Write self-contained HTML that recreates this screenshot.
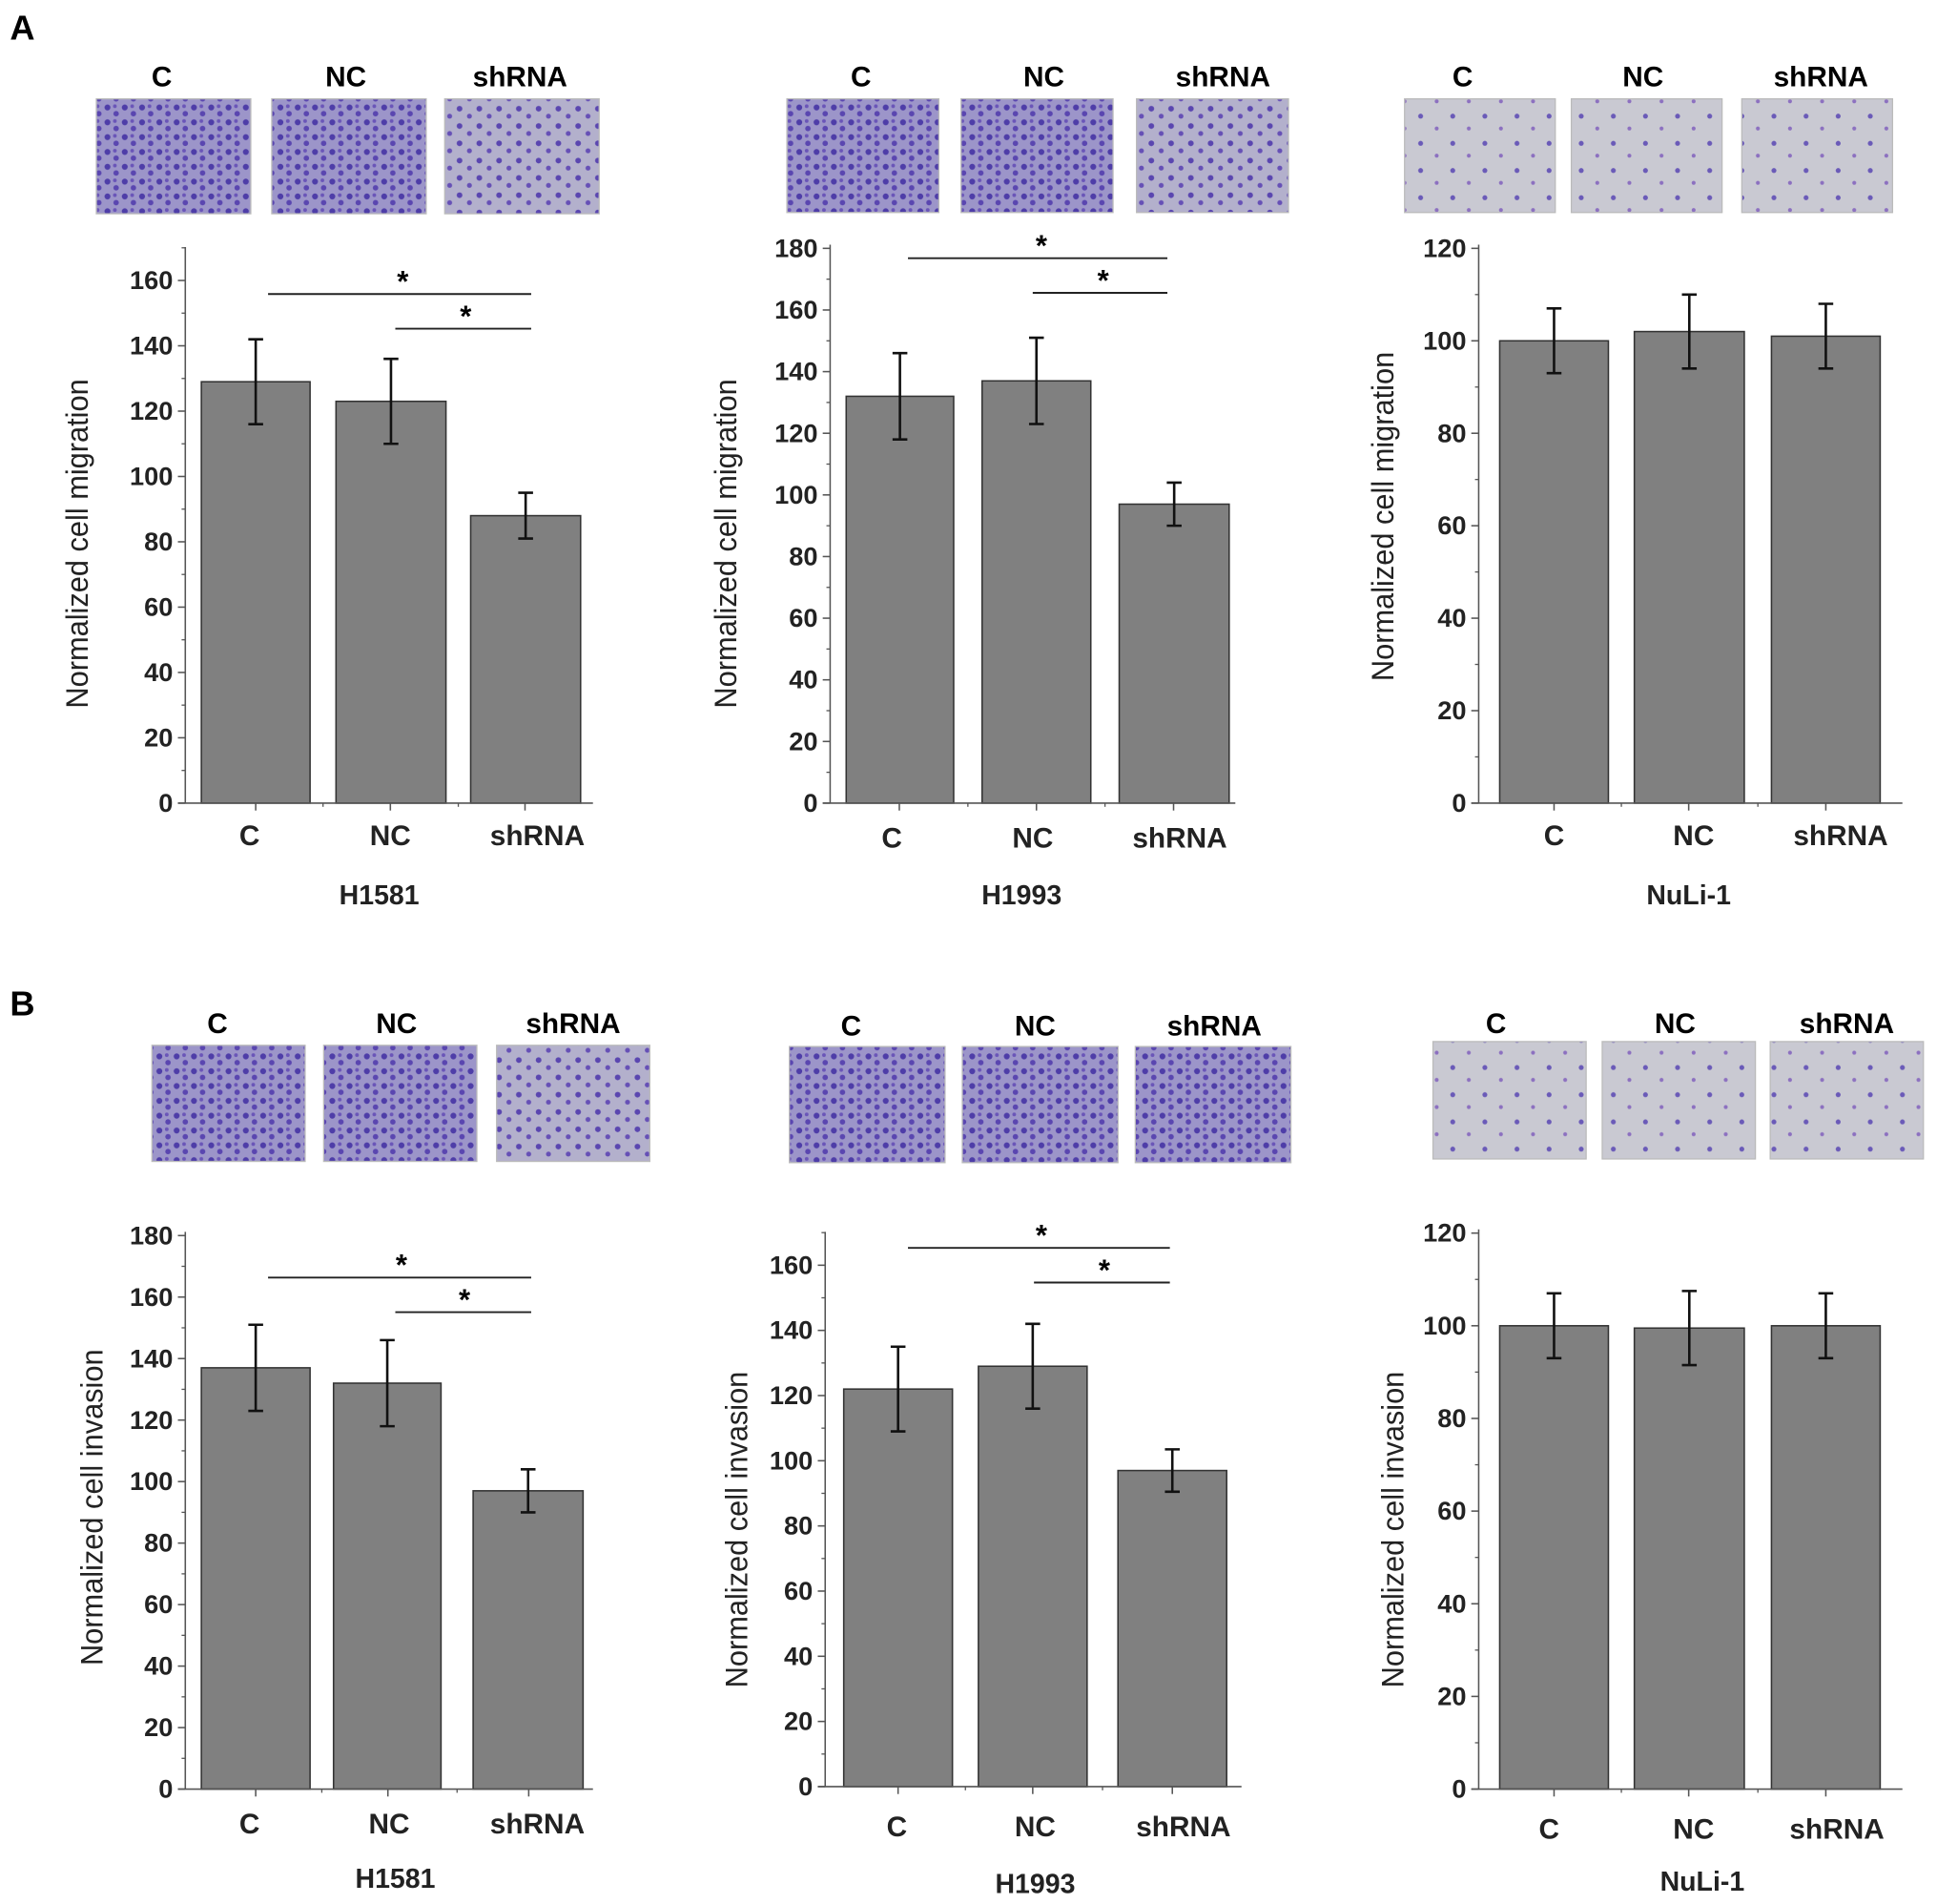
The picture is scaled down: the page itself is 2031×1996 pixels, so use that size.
<!DOCTYPE html>
<html><head><meta charset="utf-8"><style>
html,body{margin:0;padding:0;background:#fff}
svg{display:block}
text{font-family:"Liberation Sans",Arial,sans-serif}
</style></head><body>
<svg id="fig" width="2031" height="1996" viewBox="0 0 1568 1541" preserveAspectRatio="none" xmlns="http://www.w3.org/2000/svg">
<defs>
<pattern id="dense" width="14" height="12" patternUnits="userSpaceOnUse"><rect width="14" height="12" fill="#9c95c9"/><circle cx="3" cy="3" r="2.4" fill="#4e3da8"/><circle cx="10" cy="8" r="2.2" fill="#5a46b0"/><circle cx="9" cy="2" r="1.5" fill="#6a55b8"/></pattern>
<pattern id="medium" width="16" height="14" patternUnits="userSpaceOnUse"><rect width="16" height="14" fill="#b3b0cc"/><circle cx="4" cy="4" r="2.3" fill="#5a46b0"/><circle cx="12" cy="10" r="2" fill="#6650b6"/></pattern>
<pattern id="sparse" width="26" height="22" patternUnits="userSpaceOnUse"><rect width="26" height="22" fill="#c9c9d2"/><circle cx="6" cy="6" r="2" fill="#6a5ab8"/><circle cx="19" cy="16" r="1.6" fill="#8c70c0"/></pattern>
</defs>
<text x="8" y="32" font-size="28" font-weight="bold">A</text>
<text x="8" y="822" font-size="28" font-weight="bold">B</text>
<g id="root"></g>
</svg>
<script>
const categories=["C","NC","shRNA"];
const a1Values=[129,123,88]; const a1Errors=[13,13,7]; const a1Ticks=[0,20,40,60,80,100,120,140,160];
const a2Values=[132,137,97]; const a2Errors=[14,14,7]; const a2Ticks=[0,20,40,60,80,100,120,140,160,180];
const a3Values=[100,102,101]; const a3Errors=[7,8,7]; const a3Ticks=[0,20,40,60,80,100,120];
const b1Values=[137,132,97]; const b1Errors=[14,14,7]; const b1Ticks=[0,20,40,60,80,100,120,140,160,180];
const b2Values=[122,129,97]; const b2Errors=[13,13,6.5]; const b2Ticks=[0,20,40,60,80,100,120,140,160];
const b3Values=[100,99.5,100]; const b3Errors=[7,8,7]; const b3Ticks=[0,20,40,60,80,100,120];

const NS="http://www.w3.org/2000/svg";
const root=document.getElementById('root');
function mk(tag,attrs,parent,txt){const e=document.createElementNS(NS,tag);for(const k in attrs)e.setAttribute(k,attrs[k]);if(txt!==undefined)e.textContent=txt;(parent||root).appendChild(e);return e;}

const panels=[
 {id:'a1',values:a1Values,errors:a1Errors,ticks:a1Ticks,ax:150,y0:650,yTopVal:160,yTopPx:227,axTop:200,axEnd:480,
  bars:[[163,251],[272,361],[381,470]],cx:[207,316,425],xl:[[202,676],[316,676],[435,676]],title:['H1581',307,724],
  yl:['Normalized cell migration',63,440],imgs:[78,220,360],imgW:125,imgY:80,imgH:93,imgFill:['dense','dense','medium'],
  il:[[131,62],[280,62],[421,62]],sig:[[217,430,238,326],[320,430,266,377]]},
 {id:'a2',values:a2Values,errors:a2Errors,ticks:a2Ticks,ax:672,y0:650,yTopVal:180,yTopPx:201,axTop:198,axEnd:1000,
  bars:[[685,772],[795,883],[906,995]],cx:[728,839,950],xl:[[722,678],[836,678],[955,678]],title:['H1993',827,724],
  yl:['Normalized cell migration',588,440],imgs:[637,778,920],imgW:123,imgY:80,imgH:92,imgFill:['dense','dense','medium'],
  il:[[697,62],[845,62],[990,62]],sig:[[735,945,209,843],[836,945,237,893]]},
 {id:'a3',values:a3Values,errors:a3Errors,ticks:a3Ticks,ax:1197,y0:650,yTopVal:120,yTopPx:201,axTop:198,axEnd:1540,
  bars:[[1214,1302],[1323,1412],[1434,1522]],cx:[1258,1367,1478],xl:[[1258,676],[1371,676],[1490,676]],title:['NuLi-1',1367,724],
  yl:['Normalized cell migration',1120,418],imgs:[1137,1272,1410],imgW:122,imgY:80,imgH:92,imgFill:['sparse','sparse','sparse'],
  il:[[1184,62],[1330,62],[1474,62]],sig:[]},
 {id:'b1',values:b1Values,errors:b1Errors,ticks:b1Ticks,ax:150,y0:1448,yTopVal:180,yTopPx:1000,axTop:997,axEnd:480,
  bars:[[163,251],[270,357],[383,472]],cx:[207,314,428],xl:[[202,1476],[315,1476],[435,1476]],title:['H1581',320,1520],
  yl:['Normalized cell invasion',75,1220],imgs:[123,262,402],imgW:124,imgY:846,imgH:94,imgFill:['dense','dense','medium'],
  il:[[176,828],[321,828],[464,828]],sig:[[217,430,1034,325],[320,430,1062,376]]},
 {id:'b2',values:b2Values,errors:b2Errors,ticks:b2Ticks,ax:668,y0:1446,yTopVal:160,yTopPx:1024,axTop:997,axEnd:1005,
  bars:[[683,771],[792,880],[905,993]],cx:[727,836,949],xl:[[726,1478],[838,1478],[958,1478]],title:['H1993',838,1524],
  yl:['Normalized cell invasion',597,1238],imgs:[639,779,919],imgW:126,imgY:847,imgH:94,imgFill:['dense','dense','dense'],
  il:[[689,830],[838,830],[983,830]],sig:[[735,947,1010,843],[837,947,1038,894]]},
 {id:'b3',values:b3Values,errors:b3Errors,ticks:b3Ticks,ax:1197,y0:1448,yTopVal:120,yTopPx:998,axTop:995,axEnd:1540,
  bars:[[1214,1302],[1323,1412],[1434,1522]],cx:[1258,1367,1478],xl:[[1254,1480],[1371,1480],[1487,1480]],title:['NuLi-1',1378,1522],
  yl:['Normalized cell invasion',1128,1238],imgs:[1160,1297,1433],imgW:124,imgY:843,imgH:95,imgFill:['sparse','sparse','sparse'],
  il:[[1211,828],[1356,828],[1495,828]],sig:[]}
];

panels.forEach(p=>{
  const g=mk('g',{});
  
  
  const y=v=>p.y0-(v/p.yTopVal)*(p.y0-p.yTopPx);
  p.imgs.forEach((ix,i)=>{
    const r=mk('rect',{x:ix,y:p.imgY,width:p.imgW,height:p.imgH,fill:'url(#'+p.imgFill[i]+')',stroke:'#bbb','stroke-width':1},g);
    
    
    const t=mk('text',{x:p.il[i][0],y:p.il[i][1]+8,'font-size':23,'font-weight':'bold','text-anchor':'middle'},g,categories[i]);
    
    
  });
  p.values.forEach((v,i)=>{
    const [x1,x2]=p.bars[i];
    const b=mk('rect',{x:x1,y:y(v),width:x2-x1,height:p.y0-y(v),fill:'#808080',stroke:'#333','stroke-width':1.2},g);
    
    
    const cx=(x1+x2)/2, e=p.errors[i];
    const eb=mk('path',{d:`M${cx},${y(v+e)}V${y(v-e)}M${cx-6},${y(v+e)}H${cx+6}M${cx-6},${y(v-e)}H${cx+6}`,stroke:'#111','stroke-width':2,fill:'none'},g);
    
    
  });
  const ya=mk('line',{x1:p.ax,y1:p.axTop,x2:p.ax,y2:p.y0,stroke:'#555','stroke-width':1.2},g);
  
  
  const xa=mk('line',{x1:p.ax-6,y1:p.y0,x2:p.axEnd,y2:p.y0,stroke:'#555','stroke-width':1.2},g);
  
  
  const step=p.ticks[1]-p.ticks[0];
  p.ticks.forEach(t=>{
    mk('line',{x1:p.ax-6,y1:y(t),x2:p.ax,y2:y(t),stroke:'#555','stroke-width':1.2},g);
    const mv=t+step/2;
    if(y(mv)>p.axTop) mk('line',{x1:p.ax-3,y1:y(mv),x2:p.ax,y2:y(mv),stroke:'#555','stroke-width':1},g);
    const tl=mk('text',{x:p.ax-10,y:y(t)+7,'font-size':21,'font-weight':'bold','text-anchor':'end',fill:'#222'},g,String(t));
    
    
  });
  p.cx.forEach((c,i)=>{
    mk('line',{x1:c,y1:p.y0,x2:c,y2:p.y0+6,stroke:'#555','stroke-width':1.2},g);
    if(i<2){const m=(p.bars[i][1]+p.bars[i+1][0])/2;mk('line',{x1:m,y1:p.y0,x2:m,y2:p.y0+3,stroke:'#555'},g);}
    const xl=mk('text',{x:p.xl[i][0],y:p.xl[i][1]+8,'font-size':23,'font-weight':'bold','text-anchor':'middle',fill:'#222'},g,categories[i]);
    
    
  });
  const ti=mk('text',{x:p.title[1],y:p.title[2]+8,'font-size':22,'font-weight':'bold','text-anchor':'middle',fill:'#222'},g,p.title[0]);
  
  
  const yl=mk('text',{x:0,y:0,'font-size':25,'text-anchor':'middle',fill:'#222',transform:`translate(${p.yl[1]+8},${p.yl[2]}) rotate(-90) scale(0.95,1)`},g,p.yl[0]);
  
  
  p.sig.forEach(s=>{
    const l=mk('line',{x1:s[0],y1:s[2],x2:s[1],y2:s[2],stroke:'#222','stroke-width':1.5},g);
    
    
    const st=mk('text',{x:s[3],y:s[2]-2,'font-size':24,'font-weight':'bold','text-anchor':'middle'},g,'*');
    
    
  });
});
</script>
</body></html>
